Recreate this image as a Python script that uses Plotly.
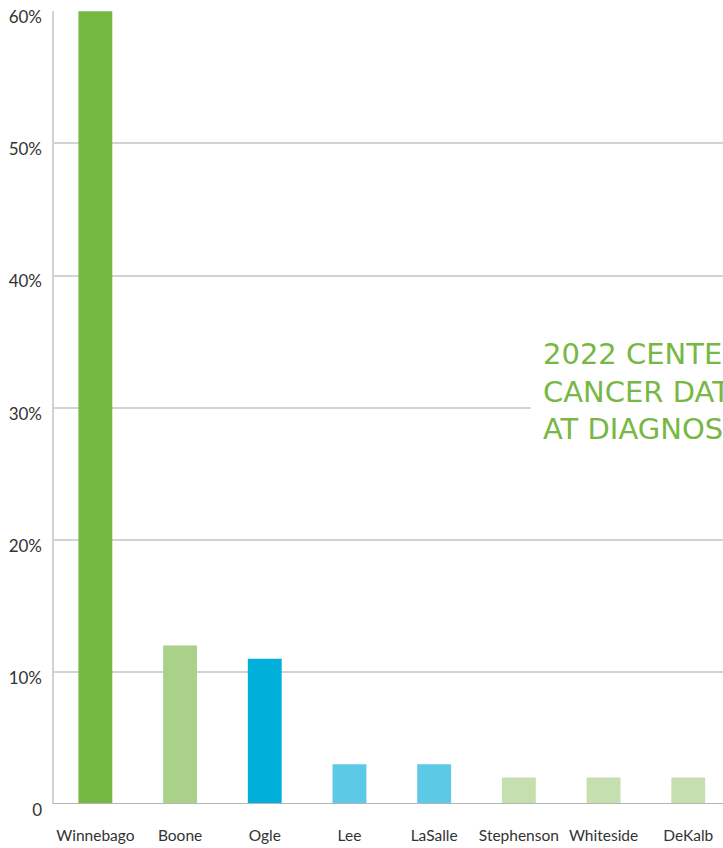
import plotly.graph_objects as go

counties = ["Winnebago", "Boone", "Ogle", "Lee", "LaSalle", "Stephenson", "Whiteside", "DeKalb"]
percent = [60, 12, 11, 3, 3, 2, 2, 2]
bar_colors = ["#75B943", "#A9D18A", "#00B0DB", "#5CC9E6", "#5CC9E6", "#C5E0AE", "#C5E0AE", "#C5E0AE"]
tick_vals = [0, 10, 20, 30, 40, 50, 60]
tick_text = ["0", "10%", "20%", "30%", "40%", "50%", "60%"]
title_lines = ["2022 CENTER", "CANCER DATA", "AT DIAGNOSIS"]

fig = go.Figure(go.Bar(
    x=list(range(len(counties))), y=percent, marker_color=bar_colors,
    marker_line_width=0, width=0.4, hoverinfo="skip"))

fig.update_layout(
    width=723, height=848,
    margin=dict(l=53, r=0, t=11, b=44),
    paper_bgcolor="white", plot_bgcolor="white",
    showlegend=False,
    font=dict(family="Lato", color="#333333", size=15),
    xaxis=dict(range=[-0.5, 7.41], tickmode="array",
               tickvals=list(range(len(counties))), ticktext=counties,
               showgrid=False, zeroline=False, showline=False, ticks="",
               ticklabelstandoff=20, tickfont=dict(size=15.5, color="#333333")),
    yaxis=dict(range=[0, 60.02], tickmode="array", tickvals=tick_vals, ticktext=tick_text,
               showgrid=True, gridcolor="#D3D3D3", gridwidth=2,
               zeroline=False, showline=False, ticks="",
               ticklabelshift=6, ticklabelstandoff=10,
               tickfont=dict(size=17, color="#333333")),
    shapes=[
        dict(type="line", xref="paper", yref="paper", x0=0, x1=0, y0=0, y1=1,
             line=dict(color="#D3D3D3", width=2), layer="below"),
        dict(type="line", xref="paper", yref="y", x0=0, x1=1, y0=0, y1=0,
             line=dict(color="#B5B5B5", width=2), layer="above"),
    ],
    annotations=[dict(
        xref="paper", yref="y", x=(530 - 53) / 670, y=30, xanchor="left", yanchor="middle",
        yshift=16,
        text="<br>".join(title_lines), align="left", showarrow=False,
        font=dict(family="DejaVu Sans", size=29, color="#76B843"),
        bgcolor="white", borderpad=12)],
)

fig.write_html(
    "out.html",
    config={"displayModeBar": False, "staticPlot": True},
    post_script="document.body.style.margin='0';document.documentElement.style.overflow='hidden';",
)
